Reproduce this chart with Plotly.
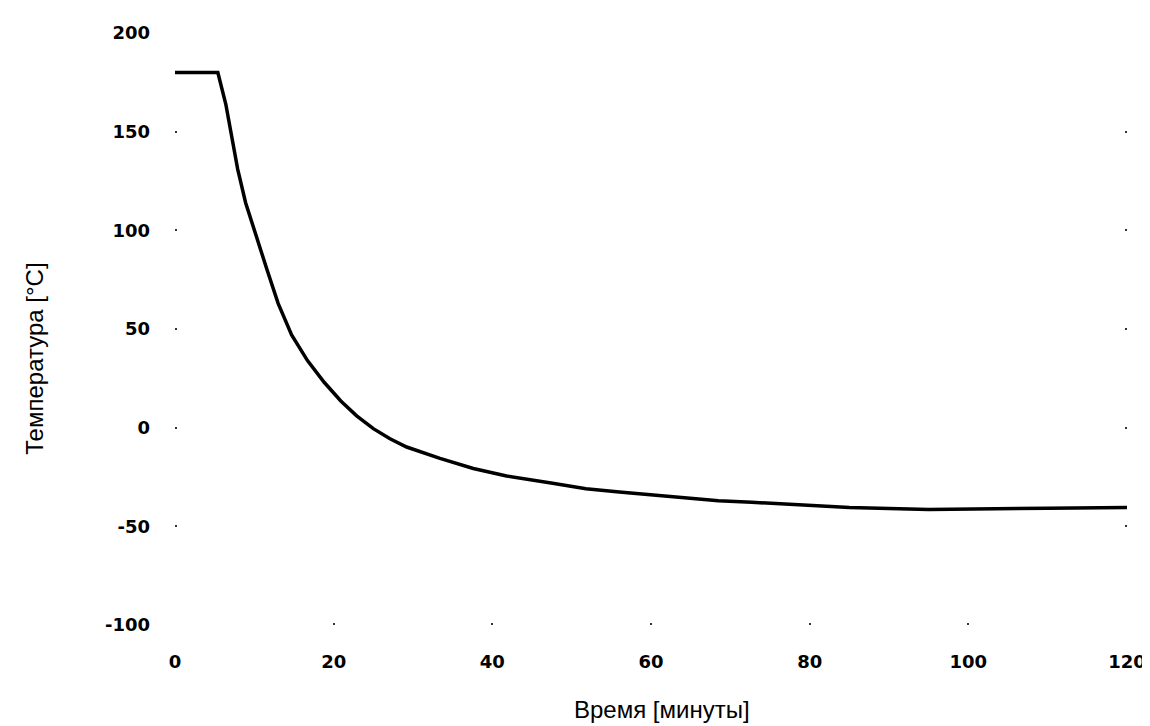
import plotly.graph_objects as go

# time in minutes and temperature in °C
time_min = [0, 5.4, 6.4, 7.2, 7.9, 8.9, 10.2, 11.6, 13.0, 14.7, 16.7, 18.8, 20.9,
            22.9, 25.0, 27.1, 29.2, 33.4, 37.6, 41.8, 47.6, 51.8, 56.0, 60.2,
            64.3, 68.5, 72.7, 79.0, 85.0, 95.0, 105.0, 110.0, 120.0]
temp_c = [180, 180, 164, 147, 131, 114, 97, 80, 63, 47, 34, 23, 13.5,
          6, -0.5, -5.6, -9.8, -15.6, -20.7, -24.5, -28.2, -30.9, -32.6, -34.1,
          -35.8, -37.0, -37.8, -39.2, -40.5, -41.5, -41.3, -40.8, -40.5]

x_ticks = [0, 20, 40, 60, 80, 100, 120]
y_ticks = [-100, -50, 0, 50, 100, 150, 200]
y_tick_text = ["-100", "-50", "0", "50", "100", "150", "200"]

x_title = "Время [минуты]"
y_title = "Температура [°C]"

tick_font = dict(family="DejaVu Sans", size=18, color="black", weight="bold")
title_font = dict(family="Liberation Sans, Arial", size=24, color="black")

fig = go.Figure()
fig.add_trace(go.Scatter(
    x=time_min, y=temp_c,
    mode="lines",
    line=dict(color="black", width=3.5),
    showlegend=False,
    hoverinfo="skip",
))

axis_common = dict(
    showgrid=False, zeroline=False, showline=False,
    ticks="inside", ticklen=2, tickwidth=2, tickcolor="#333",
    tickfont=tick_font,
)

fig.update_xaxes(range=[0, 120], tickvals=x_ticks, ticklabelstandoff=24, **axis_common)
fig.update_yaxes(range=[-100, 200], tickvals=y_ticks, ticktext=y_tick_text,
                 ticklabelstandoff=24, mirror="ticks", **axis_common)

fig.add_annotation(text=x_title, xref="paper", yref="paper", x=0.512, y=-0.143,
                   xanchor="center", yanchor="middle", showarrow=False, font=title_font)
fig.add_annotation(text=y_title, xref="paper", yref="paper", x=-0.148, y=0.45,
                   xanchor="center", yanchor="middle", textangle=-90,
                   showarrow=False, font=title_font)

fig.update_layout(
    width=1150, height=726,
    margin=dict(l=167, r=26, t=25, b=109),
    paper_bgcolor="white", plot_bgcolor="white",
)

fig.write_html("out.html")
